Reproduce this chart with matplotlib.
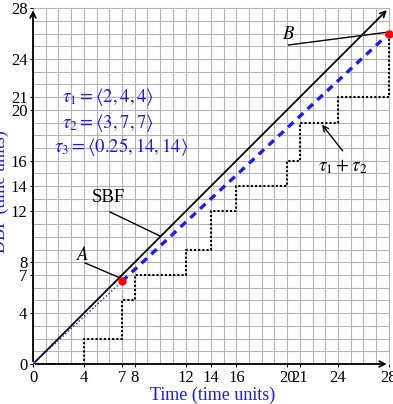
import matplotlib
matplotlib.use("Agg")
import matplotlib.pyplot as plt

plt.rcParams['font.family'] = ['Liberation Serif', 'DejaVu Serif']
plt.rcParams['mathtext.fontset'] = 'stix'

# DBF of tau1 + tau2 (step function)
step_t = [0, 4, 7, 8, 12, 14, 16, 20, 21, 24, 28]
step_dbf = [0, 2, 5, 7, 9, 12, 14, 16, 19, 21, 26]

# supply bound function
sbf_t = [0, 28]
sbf = [0, 28]

# points A and B
pt_a = (7, 6.5)
pt_b = (28, 26)

ticks = [0, 4, 7, 8, 12, 14, 16, 20, 21, 24, 28]
BLUE = '#1a1aff'

fig = plt.figure(figsize=(3.93, 4.04), dpi=100)
ax = fig.add_axes([33/393, 1 - 364/404, 359.7/393, 359.7/404])
ax.set_xlim(0, 28.3)
ax.set_ylim(0, 28.3)

# grid every unit
for g in range(0, 29):
    ax.plot([g, g], [0, 28], color='#b4b4b4', lw=0.8, zorder=0)
    ax.plot([0, 28], [g, g], color='#b4b4b4', lw=0.8, zorder=0)

for s in ax.spines.values():
    s.set_visible(False)

# axes with arrows
ax.annotate('', xy=(28.05, 0), xytext=(0, 0),
            arrowprops=dict(arrowstyle='->', lw=1.3, color='black'), annotation_clip=False)
ax.annotate('', xy=(0, 28.05), xytext=(0, 0),
            arrowprops=dict(arrowstyle='->', lw=1.3, color='black'), annotation_clip=False)

# step DBF
ax.step(step_t, step_dbf, where='post', color='black', ls=(0, (1, 1)), lw=1.5, zorder=3)

# SBF line
ax.annotate('', xy=(sbf_t[1], sbf[1]), xytext=(sbf_t[0], sbf[0]),
            arrowprops=dict(arrowstyle='->', lw=1.3, color='black'), annotation_clip=False)

# blue lines
ax.plot([0, pt_a[0]], [0, pt_a[1]], color=BLUE, ls=':', lw=1.0, zorder=4)
ax.plot([pt_a[0], pt_b[0]], [pt_a[1], pt_b[1]], color=BLUE, ls=(0, (2.2, 1.8)), lw=2.4, zorder=4)

ax.plot([pt_a[0], pt_b[0]], [pt_a[1], pt_b[1]], 'o', color='red', ms=5, zorder=6, clip_on=False)

# annotations
ax.text(3.9, 8.6, '$A$', fontsize=13.5, ha='center', va='center')
ax.plot([4.1, 6.85], [7.95, 6.77], color='black', lw=1.0, zorder=5)
ax.text(20.1, 25.9, '$B$', fontsize=13.5, ha='center', va='center')
ax.plot([20.1, 27.85], [25.1, 26.1], color='black', lw=1.0, zorder=5)
ax.text(5.9, 13.1, 'SBF', fontsize=13.5, ha='center', va='center')
ax.plot([6.06, 9.99], [11.96, 10.07], color='black', lw=1.0, zorder=5)
ax.text(24.4, 15.5, r'$\tau_1+\tau_2$', fontsize=13.5, ha='center', va='center')
ax.annotate('', xy=(22.6, 19.0), xytext=(24.5, 16.6),
            arrowprops=dict(arrowstyle='->', lw=1.0, color='black'))

ax.text(5.9, 21.0, r'$\tau_1=\langle 2,4,4\rangle$', fontsize=13.5, ha='center', va='center', color=BLUE)
ax.text(5.9, 19.0, r'$\tau_2=\langle 3,7,7\rangle$', fontsize=13.5, ha='center', va='center', color=BLUE)
ax.text(6.9, 17.1, r'$\tau_3=\langle 0.25,14,14\rangle$', fontsize=13.5, ha='center', va='center', color=BLUE)

ax.set_xticks(ticks)
ax.set_yticks(ticks)
ax.set_xticklabels([str(t) for t in ticks])
ax.set_yticklabels([str(t) for t in ticks])
ax.tick_params(length=2.5, width=0.8, labelsize=12, pad=1.5)

ax.set_xlabel('Time (time units)', color=BLUE, fontsize=13, labelpad=1)
ax.set_ylabel('DBF (time units)', color=BLUE, fontsize=13)
ax.yaxis.set_label_coords(-0.068, 0.48)

fig.savefig('out.png', dpi=100)
